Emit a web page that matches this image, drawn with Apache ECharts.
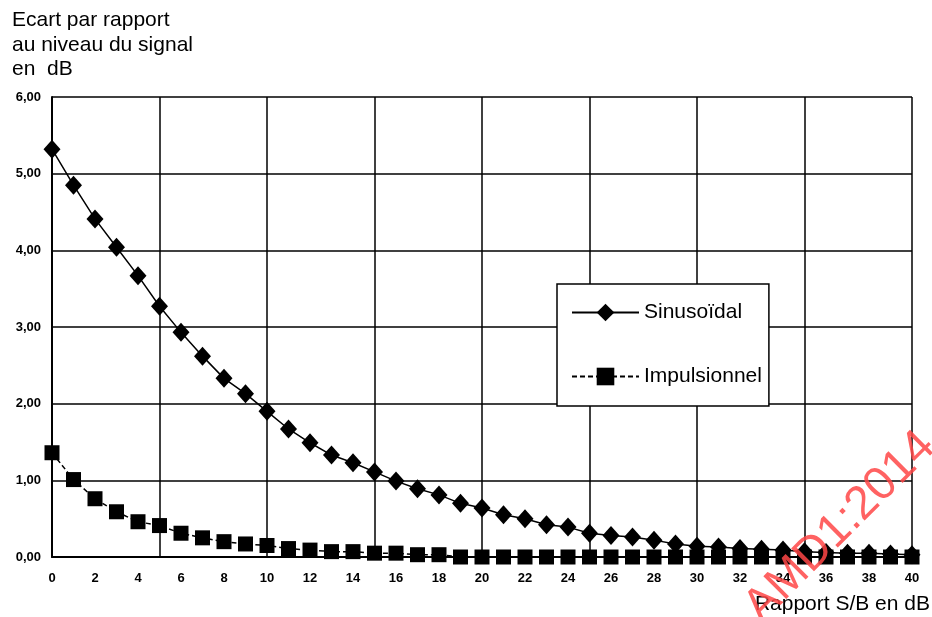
<!DOCTYPE html>
<html>
<head>
<meta charset="utf-8">
<script src="https://cdn.jsdelivr.net/npm/echarts@6/dist/echarts.min.js"></script>
<style>html,body{margin:0;padding:0;background:#fff}#c{width:932px;height:617px}</style>
</head>
<body>
<div id="c"></div>
<script>
var snrValues = [0,1,2,3,4,5,6,7,8,9,10,11,12,13,14,15,16,17,18,19,20,21,22,23,24,25,26,27,28,29,30,31,32,33,34,35,36,37,38,39,40];
var sinusoidal = [5.32,4.85,4.41,4.04,3.67,3.27,2.93,2.62,2.33,2.13,1.90,1.67,1.49,1.33,1.23,1.11,0.99,0.89,0.81,0.70,0.64,0.55,0.50,0.42,0.39,0.31,0.28,0.26,0.22,0.17,0.14,0.13,0.11,0.10,0.09,0.07,0.06,0.05,0.05,0.04,0.03];
var impulsionnel = [1.36,1.01,0.76,0.59,0.46,0.41,0.31,0.25,0.20,0.17,0.15,0.11,0.09,0.07,0.07,0.05,0.05,0.03,0.03,0.00,0.00,0.00,0.00,0.00,0.00,0.00,0.00,0.00,0.00,0.00,0.00,0.00,0.00,0.00,0.00,0.00,0.00,0.00,0.00,0.00,0.00];
var seriesNames = ['Sinusoïdal','Impulsionnel'];
var yTitle = 'Ecart par rapport\nau niveau du signal\nen  dB';
var xTitle = 'Rapport S/B en dB';
var watermark = 'AMD1:2014';

function pairs(ys){ return snrValues.map(function(x,i){ return [x, ys[i]]; }); }

var chart = echarts.init(document.getElementById('c'));
chart.setOption({
  animation: false,
  backgroundColor: '#fff',
  grid: { left: 52, right: 20, top: 97, bottom: 60 },
  legend: {
    orient: 'vertical',
    left: 557, top: 284,
    padding: [18, 7, 19, 14],
    itemWidth: 67, itemHeight: 22, itemGap: 43,
    borderColor: '#000', borderWidth: 1.5, backgroundColor: '#fff',
    textStyle: { fontFamily: 'Liberation Sans, Arial', fontSize: 21, color: '#000', padding: [0,0,0,0] },
    data: seriesNames
  },
  xAxis: [
    { type: 'value', min: 0, max: 40, interval: 2,
      axisLine: { show: true, lineStyle: { color: '#000', width: 2 } },
      axisTick: { show: false },
      splitLine: { show: false },
      axisLabel: { color: '#000', fontFamily: 'Liberation Sans, Arial', fontWeight: 'bold', fontSize: 13, margin: 15 } },
    { type: 'value', min: 0, max: 40, interval: 5, position: 'bottom',
      axisLine: { show: false }, axisTick: { show: false }, axisLabel: { show: false },
      splitLine: { show: true, lineStyle: { color: '#000', width: 1.5 } } }
  ],
  yAxis: { type: 'value', min: 0, max: 6, interval: 1,
    axisLine: { show: true, lineStyle: { color: '#000', width: 2 } },
    axisTick: { show: false },
    splitLine: { show: true, lineStyle: { color: '#000', width: 1.5 } },
    axisLabel: { color: '#000', fontFamily: 'Liberation Sans, Arial', fontWeight: 'bold', fontSize: 13, margin: 11,
      formatter: function(v){ return v.toFixed(2).replace('.', ','); } } },
  series: [
    { name: seriesNames[0], type: 'line', xAxisIndex: 0, data: pairs(sinusoidal),
      symbol: 'diamond', symbolSize: [17, 19],
      lineStyle: { color: '#000', width: 1.5, type: 'solid' },
      itemStyle: { color: '#000' }, z: 3 },
    { name: seriesNames[1], type: 'line', xAxisIndex: 0, data: pairs(impulsionnel),
      symbol: 'rect', symbolSize: 15,
      lineStyle: { color: '#000', width: 1.5, type: [5, 3] },
      itemStyle: { color: '#000' }, z: 3 }
  ],
  graphic: [
    { type: 'text', left: 12, top: 8,
      style: { text: yTitle, fontFamily: 'Liberation Sans, Arial', fontSize: 21, lineHeight: 24.5, fill: '#000' } },
    { type: 'text', right: 2, top: 594,
      style: { text: xTitle, fontFamily: 'Liberation Sans, Arial', fontSize: 21, fill: '#000' } },
    { type: 'text', x: 840, y: 527, rotation: 45 * Math.PI / 180, z: 100,
      style: { text: watermark, fontFamily: 'Liberation Sans, Arial', fontSize: 47, fill: 'rgba(255,70,70,0.85)', textAlign: 'center', textVerticalAlign: 'middle' } }
  ]
});
</script>
</body>
</html>
